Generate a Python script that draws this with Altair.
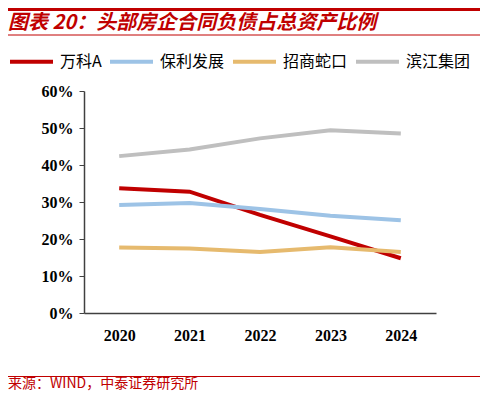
import pandas as pd
import altair as alt

# data (percent of total assets)
years = ["2020", "2021", "2022", "2023", "2024"]
names = ["万科A", "保利发展", "招商蛇口", "滨江集团"]
vanke = [33.7, 32.8, 26.5, 20.7, 14.8]
poly = [29.2, 29.7, 28.1, 26.3, 25.1]
cmsk = [17.7, 17.4, 16.5, 17.8, 16.5]
binjiang = [42.4, 44.2, 47.2, 49.4, 48.5]
colors = ["#C00000", "#9DC3E6", "#E6BA6E", "#BFBFBF"]

title_text = "图表 20：头部房企合同负债占总资产比例"
source_text = "来源：WIND，中泰证券研究所"

rows = []
for name, vals in zip(names, [vanke, poly, cmsk, binjiang]):
    for y, v in zip(years, vals):
        rows.append({"year": y, "name": name, "value": v})
df = pd.DataFrame(rows)

red = "#C00000"
axis_col = "#404040"

lines = alt.Chart(df).mark_line(strokeWidth=4).encode(
    x=alt.X("year:O", title=None,
            axis=alt.Axis(labelAngle=0, ticks=False, labelFont="Liberation Serif",
                          labelFontWeight="bold", labelFontSize=16, labelColor="black",
                          labelPadding=14, domainColor=axis_col, domainWidth=1.5)),
    y=alt.Y("value:Q", title=None,
            scale=alt.Scale(domain=[0, 60], nice=False),
            axis=alt.Axis(values=[0, 10, 20, 30, 40, 50, 60], labelExpr="datum.value + '%'",
                          grid=False, tickSize=5, tickColor=axis_col, domainColor=axis_col,
                          domainWidth=1.5, labelFont="Liberation Serif", labelFontWeight="bold",
                          labelFontSize=16, labelColor="black", labelPadding=6)),
    color=alt.Color("name:N", scale=alt.Scale(domain=names, range=colors), sort=names,
                    legend=alt.Legend(orient="none", legendX=-76, legendY=-53,
                                      direction="horizontal", title=None,
                                      symbolType="stroke", symbolSize=1849,
                                      symbolStrokeWidth=4, labelFontSize=16,
                                      labelFont="Noto Sans CJK SC", labelColor="black",
                                      labelOffset=5, columnPadding=0)),
)

one = pd.DataFrame({"t": [title_text]})
title = alt.Chart(one).mark_text(
    align="left", baseline="middle", font="Noto Sans CJK SC", fontSize=20,
    fontStyle="italic", fontWeight="bold", color=red,
).encode(text="t:N", x=alt.value(-76), y=alt.value(-68))

src = pd.DataFrame({"t": [source_text]})
source = alt.Chart(src).mark_text(
    align="left", baseline="middle", font="Noto Sans CJK SC", fontSize=14, color=red,
).encode(text="t:N", x=alt.value(-76), y=alt.value(293))

top_rule = alt.Chart(one).mark_rule(color=red, strokeWidth=3).encode(
    x=alt.value(-76), x2=alt.value(396), y=alt.value(-81.5))
mid_rule = alt.Chart(one).mark_rule(color=red, strokeWidth=1).encode(
    x=alt.value(-76), x2=alt.value(396), y=alt.value(-56))
bot_rule = alt.Chart(one).mark_rule(color=red, strokeWidth=1.2).encode(
    x=alt.value(-76), x2=alt.value(396), y=alt.value(285.5))

chart = alt.layer(lines, title, source, top_rule, mid_rule, bot_rule).properties(
    width=352, height=222,
    autosize=alt.AutoSizeParams(type="none"),
    padding={"left": 76, "top": 83, "right": 44, "bottom": 79},
    background="white",
).configure_view(stroke=None)

chart.save("out.html", embed_options={"renderer": "svg", "actions": False})
